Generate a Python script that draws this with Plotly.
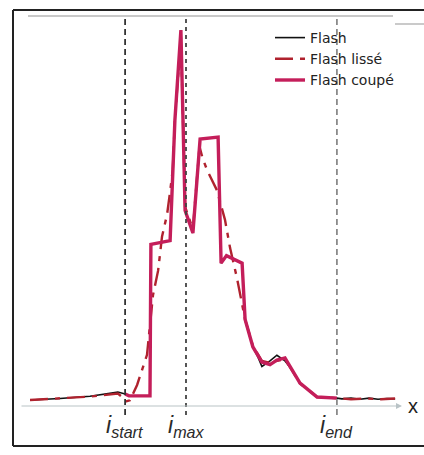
import plotly.graph_objects as go

# ---- data (sample index, normalised amplitude) ----
flash_x = [0, 10, 20, 29.3, 31.7, 33, 40, 40.3, 46.7, 48.3, 50.3, 51, 51.7, 54.3, 56.7, 62.7, 63.7,
           65.5, 70.7, 71.7, 74.3, 76, 77.3, 80, 82.3, 85, 87, 90, 95.7, 102.3, 104, 107, 110, 113, 116, 119, 121.7]
flash_y = [0.016, 0.020, 0.026, 0.037, 0.032, 0.027, 0.027, 0.43, 0.44, 0.76, 1.0, 0.76, 0.52, 0.46, 0.71, 0.715, 0.38,
           0.40, 0.38, 0.23, 0.157, 0.13, 0.105, 0.12, 0.135, 0.12, 0.10, 0.061, 0.024, 0.021, 0.019, 0.021, 0.018, 0.021, 0.018, 0.020, 0.019]

lisse_x = [0, 10, 20, 29.3, 31, 32, 33.3, 35.7, 39, 41, 42.7, 44, 45.7, 46.7, 47.6, 48.3, 50.3, 51, 51.7, 54.3, 56.5,
           57.5, 59, 62.3, 65, 66.7, 69, 71.7, 74.3, 77.3, 80, 82.3, 85, 90, 95.7, 102.3, 107, 112, 117, 121.7]
lisse_y = [0.016, 0.020, 0.025, 0.033, 0.022, 0.012, 0.015, 0.056, 0.136, 0.295, 0.36, 0.45, 0.51, 0.57, 0.63, 0.76, 0.98,
           0.76, 0.53, 0.47, 0.69, 0.66, 0.628, 0.574, 0.495, 0.42, 0.34, 0.23, 0.16, 0.12, 0.115, 0.12, 0.125, 0.06,
           0.024, 0.021, 0.018, 0.020, 0.018, 0.020]

coupe_x = [31.7, 33, 40, 40.3, 46.7, 48.3, 50.3, 51, 51.7, 54.3, 56.7, 62.7, 63.7, 65.5, 70.7, 71.7, 74.3, 77.3,
           80, 82.3, 85, 90, 95.7, 102.3]
coupe_y = [0.032, 0.027, 0.027, 0.43, 0.44, 0.76, 1.0, 0.76, 0.52, 0.46, 0.71, 0.715, 0.38, 0.40, 0.38, 0.23, 0.157, 0.117,
           0.11, 0.122, 0.128, 0.061, 0.024, 0.021]

i_start, i_max, i_end = 31.7, 52.0, 102.3
markers = [(i_start, "start", "#333333", "6px,4px"), (i_max, "max", "#444444", "4px,4px"), (i_end, "end", "#8a8a8a", "6px,4px")]

W, H = 424, 455
def px(x):
    return x / W
def py(y):
    return 1 - y / H

fig = go.Figure()
fig.add_trace(go.Scatter(x=flash_x, y=flash_y, mode="lines", name="Flash",
                         line=dict(color="#111111", width=1.6)))
fig.add_trace(go.Scatter(x=lisse_x, y=lisse_y, mode="lines", name="Flash lissé",
                         line=dict(color="#b0222e", width=2.4, dash="18px,7px,5px,7px")))
fig.add_trace(go.Scatter(x=coupe_x, y=coupe_y, mode="lines", name="Flash coupé",
                         line=dict(color="#c41e5a", width=3.4)))

shapes = []
# frame
shapes.append(dict(type="line", xref="paper", yref="paper", x0=px(13), x1=px(424), y0=py(10), y1=py(10),
                   line=dict(color="#222", width=2)))
shapes.append(dict(type="line", xref="paper", yref="paper", x0=px(13), x1=px(13), y0=py(10), y1=py(446),
                   line=dict(color="#222", width=2)))
shapes.append(dict(type="line", xref="paper", yref="paper", x0=px(13), x1=px(424), y0=py(446), y1=py(446),
                   line=dict(color="#222", width=2)))
shapes.append(dict(type="line", xref="paper", yref="paper", x0=px(28), x1=px(393), y0=py(16), y1=py(16),
                   line=dict(color="#c8c8c8", width=2)))
shapes.append(dict(type="line", xref="paper", yref="paper", x0=px(395), x1=px(424), y0=py(24), y1=py(24),
                   line=dict(color="#b8b8b8", width=1.5)))
annotations = []
for xv, lab, col, dsh in markers:
    shapes.append(dict(type="line", xref="x", yref="paper", x0=xv, x1=xv, y0=py(415), y1=py(19),
                       line=dict(color=col, width=1.8, dash=dsh)))
    annotations.append(dict(x=xv, xref="x", y=py(410), yref="paper", yanchor="top", xanchor="center",
                            text="<i>i<sub>%s</sub></i>" % lab, showarrow=False,
                            font=dict(size=23, color="#2a2a2a", family="Liberation Sans, Arial")))

# x axis arrow
annotations.append(dict(x=px(402), y=0, xref="paper", yref="y", ax=-(402 - 20), ay=0, axref="pixel", ayref="pixel",
                        text="", showarrow=True, arrowhead=2, arrowsize=1, arrowwidth=1.2, arrowcolor="#b9c3c6"))
annotations.append(dict(x=px(413), y=0, xref="paper", yref="y", text="x", showarrow=False,
                        font=dict(size=20, color="#222", family="Liberation Sans, Arial"), xanchor="center", yanchor="middle"))

fig.update_layout(
    width=W, height=H, margin=dict(l=0, r=0, t=0, b=0),
    paper_bgcolor="white", plot_bgcolor="white",
    xaxis=dict(range=[-10, 131.333], visible=False, fixedrange=True),
    yaxis=dict(range=[-0.1303, 1.0798], visible=False, fixedrange=True),
    shapes=shapes, annotations=annotations,
    showlegend=True,
    legend=dict(x=px(270), y=py(22), xanchor="left", yanchor="top", bgcolor="rgba(0,0,0,0)",
                font=dict(size=14, color="#222", family="DejaVu Sans"), tracegroupgap=0),
)

fig.write_html("out.html")
